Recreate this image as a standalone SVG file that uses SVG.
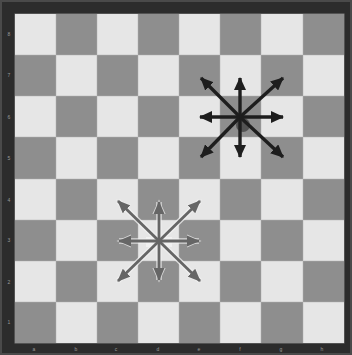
<svg xmlns="http://www.w3.org/2000/svg" width="352" height="355" viewBox="0 0 352 355">
<defs>
<style>
.lt{fill:#e6e6e6}
.dk{fill:#8e8e8e}
.lbl{font-family:"Liberation Sans",Arial,sans-serif;font-size:5px;fill:#9a9a9a;text-anchor:middle}
.ad{stroke:#1e1e1e;stroke-width:3.4;fill:none;marker-end:url(#hd)}
.halo{stroke:#f2f2f2;stroke-width:5.5;fill:none;opacity:0.75;marker-end:url(#hh)}
.al{stroke:#666;stroke-width:2.8;fill:none;marker-end:url(#hl)}
</style>
<marker id="hd" markerUnits="userSpaceOnUse" markerWidth="14" markerHeight="12" refX="12" refY="6" orient="auto"><path d="M0,0 L13,6 L0,12 z" fill="#1e1e1e"/></marker>
<marker id="hl" markerUnits="userSpaceOnUse" markerWidth="14" markerHeight="12" refX="12" refY="6" orient="auto"><path d="M0,0.5 L13,6 L0,11.5 z" fill="#666"/></marker>
<marker id="hh" markerUnits="userSpaceOnUse" markerWidth="16" markerHeight="14" refX="12" refY="7" orient="auto"><path d="M-1,0 L14.5,7 L-1,14 z" fill="#f2f2f2"/></marker>
</defs>
<rect x="0" y="0" width="352" height="355" fill="#2c2c2c"/>
<rect x="1" y="1" width="350" height="353" fill="none" stroke="#4a4a4a" stroke-width="2"/>
<g id="board">
<rect x="14.5" y="13.5" width="330" height="330" fill="#7a7a7a"/>
<rect class="lt" x="15" y="14" width="41" height="41"/><rect class="dk" x="56" y="14" width="41" height="41"/><rect class="lt" x="97" y="14" width="41" height="41"/><rect class="dk" x="138" y="14" width="41" height="41"/><rect class="lt" x="179" y="14" width="41" height="41"/><rect class="dk" x="220" y="14" width="41" height="41"/><rect class="lt" x="261" y="14" width="42" height="41"/><rect class="dk" x="303" y="14" width="41" height="41"/>
<rect class="dk" x="15" y="55" width="41" height="41"/><rect class="lt" x="56" y="55" width="41" height="41"/><rect class="dk" x="97" y="55" width="41" height="41"/><rect class="lt" x="138" y="55" width="41" height="41"/><rect class="dk" x="179" y="55" width="41" height="41"/><rect class="lt" x="220" y="55" width="41" height="41"/><rect class="dk" x="261" y="55" width="42" height="41"/><rect class="lt" x="303" y="55" width="41" height="41"/>
<rect class="lt" x="15" y="96" width="41" height="41"/><rect class="dk" x="56" y="96" width="41" height="41"/><rect class="lt" x="97" y="96" width="41" height="41"/><rect class="dk" x="138" y="96" width="41" height="41"/><rect class="lt" x="179" y="96" width="41" height="41"/><rect class="dk" x="220" y="96" width="41" height="41"/><rect class="lt" x="261" y="96" width="42" height="41"/><rect class="dk" x="303" y="96" width="41" height="41"/>
<rect class="dk" x="15" y="137" width="41" height="42"/><rect class="lt" x="56" y="137" width="41" height="42"/><rect class="dk" x="97" y="137" width="41" height="42"/><rect class="lt" x="138" y="137" width="41" height="42"/><rect class="dk" x="179" y="137" width="41" height="42"/><rect class="lt" x="220" y="137" width="41" height="42"/><rect class="dk" x="261" y="137" width="42" height="42"/><rect class="lt" x="303" y="137" width="41" height="42"/>
<rect class="lt" x="15" y="179" width="41" height="41"/><rect class="dk" x="56" y="179" width="41" height="41"/><rect class="lt" x="97" y="179" width="41" height="41"/><rect class="dk" x="138" y="179" width="41" height="41"/><rect class="lt" x="179" y="179" width="41" height="41"/><rect class="dk" x="220" y="179" width="41" height="41"/><rect class="lt" x="261" y="179" width="42" height="41"/><rect class="dk" x="303" y="179" width="41" height="41"/>
<rect class="dk" x="15" y="220" width="41" height="41"/><rect class="lt" x="56" y="220" width="41" height="41"/><rect class="dk" x="97" y="220" width="41" height="41"/><rect class="lt" x="138" y="220" width="41" height="41"/><rect class="dk" x="179" y="220" width="41" height="41"/><rect class="lt" x="220" y="220" width="41" height="41"/><rect class="dk" x="261" y="220" width="42" height="41"/><rect class="lt" x="303" y="220" width="41" height="41"/>
<rect class="lt" x="15" y="261" width="41" height="41"/><rect class="dk" x="56" y="261" width="41" height="41"/><rect class="lt" x="97" y="261" width="41" height="41"/><rect class="dk" x="138" y="261" width="41" height="41"/><rect class="lt" x="179" y="261" width="41" height="41"/><rect class="dk" x="220" y="261" width="41" height="41"/><rect class="lt" x="261" y="261" width="42" height="41"/><rect class="dk" x="303" y="261" width="41" height="41"/>
<rect class="dk" x="15" y="302" width="41" height="41"/><rect class="lt" x="56" y="302" width="41" height="41"/><rect class="dk" x="97" y="302" width="41" height="41"/><rect class="lt" x="138" y="302" width="41" height="41"/><rect class="dk" x="179" y="302" width="41" height="41"/><rect class="lt" x="220" y="302" width="41" height="41"/><rect class="dk" x="261" y="302" width="42" height="41"/><rect class="lt" x="303" y="302" width="41" height="41"/>
<g stroke="#b4b4b4" stroke-width="0.8" opacity="0.6">
<path d="M56,14V343M97,14V343M138,14V343M179,14V343M220,14V343M261,14V343M303,14V343M15,55H344M15,96H344M15,137H344M15,179H344M15,220H344M15,261H344M15,302H344"/>
</g>
</g>
<g id="labels">
<text class="lbl" x="9" y="36">8</text><text class="lbl" x="9" y="77">7</text><text class="lbl" x="9" y="119">6</text><text class="lbl" x="9" y="160">5</text><text class="lbl" x="9" y="202">4</text><text class="lbl" x="9" y="242">3</text><text class="lbl" x="9" y="284">2</text><text class="lbl" x="9" y="324">1</text>
<text class="lbl" x="34" y="351">a</text><text class="lbl" x="76" y="351">b</text><text class="lbl" x="116" y="351">c</text><text class="lbl" x="158" y="351">d</text><text class="lbl" x="199" y="351">e</text><text class="lbl" x="240" y="351">f</text><text class="lbl" x="281" y="351">g</text><text class="lbl" x="322" y="351">h</text>
</g>
<g id="king-f6">
<circle cx="243" cy="125" r="7" fill="#3a3a3a" opacity="0.7"/>
</g>
<g id="king-d3">
<rect x="146" y="237" width="26" height="10" fill="#f4f4f4" opacity="0.8"/>
</g>
<g id="connectors">
<line class="ad" x1="240" y1="117" x2="240" y2="78"/>
<line class="ad" x1="240" y1="117" x2="240" y2="157"/>
<line class="ad" x1="240" y1="117" x2="200" y2="117"/>
<line class="ad" x1="240" y1="117" x2="283" y2="117"/>
<line class="ad" x1="240" y1="117" x2="201" y2="78"/>
<line class="ad" x1="240" y1="117" x2="283" y2="78"/>
<line class="ad" x1="240" y1="117" x2="201" y2="157"/>
<line class="ad" x1="240" y1="117" x2="283" y2="157"/>
<line class="halo" x1="159" y1="241" x2="159" y2="202"/>
<line class="halo" x1="159" y1="241" x2="159" y2="280"/>
<line class="halo" x1="159" y1="241" x2="119" y2="241"/>
<line class="halo" x1="159" y1="241" x2="199" y2="241"/>
<line class="halo" x1="159" y1="241" x2="118" y2="201"/>
<line class="halo" x1="159" y1="241" x2="200" y2="201"/>
<line class="halo" x1="159" y1="241" x2="118" y2="281"/>
<line class="halo" x1="159" y1="241" x2="200" y2="281"/>
<line class="al" x1="159" y1="241" x2="159" y2="202"/>
<line class="al" x1="159" y1="241" x2="159" y2="280"/>
<line class="al" x1="159" y1="241" x2="119" y2="241"/>
<line class="al" x1="159" y1="241" x2="199" y2="241"/>
<line class="al" x1="159" y1="241" x2="118" y2="201"/>
<line class="al" x1="159" y1="241" x2="200" y2="201"/>
<line class="al" x1="159" y1="241" x2="118" y2="281"/>
<line class="al" x1="159" y1="241" x2="200" y2="281"/>
</g>
</svg>
